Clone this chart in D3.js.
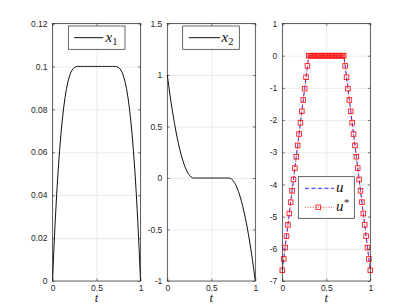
<!DOCTYPE html>
<html>
<head>
<meta charset="utf-8">
<script src="https://cdn.jsdelivr.net/npm/d3@7"></script>
<style>
  body { margin: 0; background: #fff; }
  svg { display: block; }
  .tick text { font-family: "Liberation Sans", Arial, sans-serif; font-size: 8.5px; fill: #262626; }
</style>
</head>
<body>
<svg id="fig" width="409" height="306"></svg>
<script>
// sample times (64 grid points)
const t = [0, 0.0159, 0.0317, 0.0476, 0.0635, 0.0794, 0.0952, 0.1111, 0.1270, 0.1429,
  0.1587, 0.1746, 0.1905, 0.2063, 0.2222, 0.2381, 0.2540, 0.2698, 0.2857, 0.3016,
  0.3175, 0.3333, 0.3492, 0.3651, 0.3810, 0.3968, 0.4127, 0.4286, 0.4444, 0.4603,
  0.4762, 0.4921, 0.5079, 0.5238, 0.5397, 0.5556, 0.5714, 0.5873, 0.6032, 0.6190,
  0.6349, 0.6508, 0.6667, 0.6825, 0.6984, 0.7143, 0.7302, 0.7460, 0.7619, 0.7778,
  0.7937, 0.8095, 0.8254, 0.8413, 0.8571, 0.8730, 0.8889, 0.9048, 0.9206, 0.9365,
  0.9524, 0.9683, 0.9841, 1];

const x1 = [0, 0.0151, 0.0285, 0.0405, 0.0510, 0.0602, 0.0682, 0.0750, 0.0808, 0.0856,
  0.0896, 0.0927, 0.0951, 0.0970, 0.0983, 0.0991, 0.0996, 0.0999, 0.1000, 0.1,
  0.1, 0.1, 0.1, 0.1, 0.1, 0.1, 0.1, 0.1, 0.1, 0.1,
  0.1, 0.1, 0.1, 0.1, 0.1, 0.1, 0.1, 0.1, 0.1, 0.1,
  0.1, 0.1, 0.1, 0.1, 0.1, 0.1000, 0.0999, 0.0996, 0.0991, 0.0983,
  0.0970, 0.0951, 0.0927, 0.0896, 0.0856, 0.0808, 0.0750, 0.0682, 0.0602, 0.0510,
  0.0405, 0.0285, 0.0151, 0];

const x2 = [1, 0.8970, 0.7996, 0.7077, 0.6215, 0.5409, 0.4659, 0.3964, 0.3326, 0.2744,
  0.2217, 0.1747, 0.1333, 0.0975, 0.0672, 0.0426, 0.0235, 0.0101, 0.0023, 0,
  0, 0, 0, 0, 0, 0, 0, 0, 0, 0,
  0, 0, 0, 0, 0, 0, 0, 0, 0, 0,
  0, 0, 0, 0, 0, -0.0023, -0.0101, -0.0235, -0.0426, -0.0672,
  -0.0975, -0.1333, -0.1747, -0.2217, -0.2744, -0.3326, -0.3964, -0.4659, -0.5409, -0.6215,
  -0.7077, -0.7996, -0.8970, -1];

const u = [-6.667, -6.314, -5.961, -5.608, -5.256, -4.903, -4.550, -4.198, -3.845, -3.492,
  -3.139, -2.787, -2.434, -2.081, -1.728, -1.376, -1.023, -0.670, -0.317, 0,
  0, 0, 0, 0, 0, 0, 0, 0, 0, 0,
  0, 0, 0, 0, 0, 0, 0, 0, 0, 0,
  0, 0, 0, 0, 0, -0.317, -0.670, -1.023, -1.376, -1.728,
  -2.081, -2.434, -2.787, -3.139, -3.492, -3.845, -4.198, -4.550, -4.903, -5.256,
  -5.608, -5.961, -6.314, -6.667];

// u* coincides with u
const uStar = u;

const xTicks = [0, 0.5, 1];
const xTickLabels = ['0', '0.5', '1'];
const x1Ticks = [0, 0.02, 0.04, 0.06, 0.08, 0.1, 0.12];
const x1TickLabels = ['0', '0.02', '0.04', '0.06', '0.08', '0.1', '0.12'];
const x2Ticks = [-1, -0.5, 0, 0.5, 1, 1.5];
const x2TickLabels = ['-1', '-0.5', '0', '0.5', '1', '1.5'];
const uTicks = [-7, -6, -5, -4, -3, -2, -1, 0, 1];
const uTickLabels = ['-7', '-6', '-5', '-4', '-3', '-2', '-1', '0', '1'];

const svg = d3.select('#fig');
const axTop = 23.5, axH = 257.5, axW = 88;
const axisColor = '#262626';
const serif = '"Liberation Serif", "Times New Roman", serif';

function makePanel(left, yTicks, yLabels) {
  const x = d3.scaleLinear().domain([0, 1]).range([left, left + axW]);
  const y = d3.scaleLinear().domain(d3.extent(yTicks)).range([axTop + axH, axTop]);
  const g = svg.append('g');

  // grid
  g.append('g')
    .attr('transform', `translate(0,${axTop + axH})`)
    .call(d3.axisBottom(x).tickValues(xTicks).tickSize(-axH).tickFormat(''))
    .call(s => { s.select('.domain').remove(); s.selectAll('line').attr('stroke', '#e2e2e2').attr('stroke-width', 0.7); });
  g.append('g')
    .attr('transform', `translate(${left},0)`)
    .call(d3.axisLeft(y).tickValues(yTicks).tickSize(-axW).tickFormat(''))
    .call(s => { s.select('.domain').remove(); s.selectAll('line').attr('stroke', '#e2e2e2').attr('stroke-width', 0.7); });

  const layer = svg.append('g');

  const frame = svg.append('g');
  const tick = 2.5;
  frame.append('g')
    .attr('transform', `translate(0,${axTop + axH})`)
    .call(d3.axisBottom(x).tickValues(xTicks).tickSize(-tick).tickPadding(3.5)
      .tickFormat((d, i) => xTickLabels[i]))
    .call(s => s.select('.domain').remove());
  frame.append('g')
    .attr('transform', `translate(0,${axTop})`)
    .call(d3.axisTop(x).tickValues(xTicks).tickSize(-tick).tickFormat(''))
    .call(s => s.select('.domain').remove());
  frame.append('g')
    .attr('transform', `translate(${left},0)`)
    .call(d3.axisLeft(y).tickValues(yTicks).tickSize(-tick).tickPadding(5)
      .tickFormat((d, i) => yLabels[i]))
    .call(s => s.select('.domain').remove());
  frame.append('g')
    .attr('transform', `translate(${left + axW},0)`)
    .call(d3.axisRight(y).tickValues(yTicks).tickSize(-tick).tickFormat(''))
    .call(s => s.select('.domain').remove());
  frame.selectAll('.tick line').attr('stroke', axisColor).attr('stroke-width', 0.6);
  frame.append('rect')
    .attr('x', left).attr('y', axTop).attr('width', axW).attr('height', axH)
    .attr('fill', 'none').attr('stroke', axisColor).attr('stroke-width', 0.7);

  // x label
  frame.append('text')
    .attr('x', left + axW / 2).attr('y', 301.5)
    .attr('text-anchor', 'middle')
    .attr('font-family', serif).attr('font-style', 'italic').attr('font-size', 13)
    .attr('fill', axisColor)
    .text('t');

  return { x, y, layer, g: svg.append('g') };
}

function legendBox(g, x0, y0, w, h) {
  g.append('rect').attr('x', x0).attr('y', y0).attr('width', w).attr('height', h)
    .attr('fill', '#fff').attr('stroke', axisColor).attr('stroke-width', 0.7);
}

function mathLabel(g, x0, yBase, main, sub, sup) {
  const txt = g.append('text').attr('x', x0).attr('y', yBase)
    .attr('font-family', serif).attr('font-size', 15).attr('fill', '#111');
  txt.append('tspan').attr('font-style', 'italic').text(main);
  if (sub) txt.append('tspan').attr('font-size', 10.5).attr('dy', 3).text(sub);
  if (sup) txt.append('tspan').attr('font-size', 10.5).attr('dx', 0.5).attr('dy', -5).text(sup);
}

// panel 1: x1
const p1 = makePanel(52.5, x1Ticks, x1TickLabels);
const idx = d3.range(t.length);
p1.layer.append('path')
  .attr('d', d3.line().x(i => p1.x(t[i])).y(i => p1.y(x1[i]))(idx))
  .attr('fill', 'none').attr('stroke', '#111').attr('stroke-width', 1);
legendBox(p1.g, 68.3, 26, 56.7, 23.3);
p1.g.append('line').attr('x1', 74).attr('x2', 103.3).attr('y1', 37.7).attr('y2', 37.7)
  .attr('stroke', '#111').attr('stroke-width', 1);
mathLabel(p1.g, 105.5, 41.5, 'x', '1');

// panel 2: x2
const p2 = makePanel(167.3, x2Ticks, x2TickLabels);
p2.layer.append('path')
  .attr('d', d3.line().x(i => p2.x(t[i])).y(i => p2.y(x2[i]))(idx))
  .attr('fill', 'none').attr('stroke', '#111').attr('stroke-width', 1);
legendBox(p2.g, 182.7, 26, 56.6, 23.3);
p2.g.append('line').attr('x1', 188.7).attr('x2', 220).attr('y1', 37.7).attr('y2', 37.7)
  .attr('stroke', '#111').attr('stroke-width', 1);
mathLabel(p2.g, 221.5, 41.5, 'x', '2');

// panel 3: u and u*
const p3 = makePanel(282.3, uTicks, uTickLabels);
p3.layer.append('path')
  .attr('d', d3.line().x(i => p3.x(t[i])).y(i => p3.y(u[i]))(idx))
  .attr('fill', 'none').attr('stroke', '#2a2aff').attr('stroke-width', 1)
  .attr('stroke-dasharray', '4,2.5');
p3.layer.append('path')
  .attr('d', d3.line().x(i => p3.x(t[i])).y(i => p3.y(uStar[i]))(idx))
  .attr('fill', 'none').attr('stroke', '#ff2020').attr('stroke-width', 0.8)
  .attr('stroke-dasharray', '1,1.6');
const ms = 4.6;
p3.layer.selectAll('rect.mk').data(idx).join('rect')
  .attr('class', 'mk')
  .attr('x', i => p3.x(t[i]) - ms / 2).attr('y', i => p3.y(uStar[i]) - ms / 2)
  .attr('width', ms).attr('height', ms)
  .attr('fill', 'none').attr('stroke', '#ff1a1a').attr('stroke-width', 0.9);

legendBox(p3.g, 298.3, 176.7, 56, 41.6);
p3.g.append('line').attr('x1', 305).attr('x2', 334).attr('y1', 188.3).attr('y2', 188.3)
  .attr('stroke', '#2a2aff').attr('stroke-width', 1).attr('stroke-dasharray', '4,2.5');
p3.g.append('line').attr('x1', 305).attr('x2', 334).attr('y1', 207.3).attr('y2', 207.3)
  .attr('stroke', '#ff2020').attr('stroke-width', 0.8).attr('stroke-dasharray', '1,1.6');
p3.g.append('rect').attr('x', 318.3 - ms / 2).attr('y', 207.3 - ms / 2)
  .attr('width', ms).attr('height', ms)
  .attr('fill', 'none').attr('stroke', '#ff1a1a').attr('stroke-width', 0.9);
mathLabel(p3.g, 336, 192, 'u');
mathLabel(p3.g, 336, 211, 'u', null, '*');
</script>
</body>
</html>
